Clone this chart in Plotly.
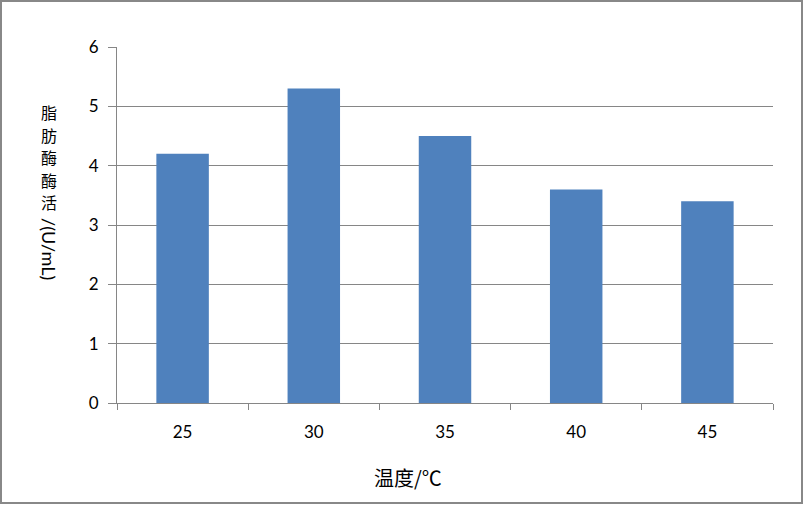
import plotly.graph_objects as go

categories = ["25", "30", "35", "40", "45"]
values = [4.2, 5.3, 4.5, 3.6, 3.4]
y_title_chars = ["脂", "肪", "酶", "酶", "活"]
y_title_tail = "/(U/mL)"
x_title = "温度/℃"

W, H = 804, 506
L, R, T, B = 117, 31, 47, 103
PW, PH = W - L - R, H - T - B

def px(x):
    return (x - L) / PW

def py(y):
    return (H - B - y) / PH

fig = go.Figure(go.Bar(x=categories, y=values, marker=dict(color="#4F81BD", line=dict(width=0)),
                       width=0.4))

annotations = []
for i, ch in enumerate(y_title_chars):
    annotations.append(dict(text=ch, x=px(49), y=py(112 + 22.5 * i), xref="paper", yref="paper",
                            showarrow=False, xanchor="center", yanchor="middle", borderpad=0,
                            font=dict(family="Noto Sans CJK SC", size=16, color="#000000")))
annotations.append(dict(text=y_title_tail, x=px(49), y=py(249), xref="paper", yref="paper",
                        showarrow=False, xanchor="center", yanchor="middle", textangle=90,
                        borderpad=0, font=dict(family="Lato", size=18, color="#000000")))
annotations.append(dict(text=x_title, x=px(408), y=py(477), xref="paper", yref="paper",
                        showarrow=False, xanchor="center", yanchor="middle",
                        font=dict(family="Noto Sans CJK SC", size=20, color="#000000")))

shapes = [dict(type="rect", xref="paper", yref="paper",
               x0=px(1), x1=px(802), y0=py(1), y1=py(503),
               line=dict(color="#888888", width=2), fillcolor="rgba(0,0,0,0)", layer="above")]

fig.update_layout(
    width=W, height=H,
    margin=dict(l=L, r=R, t=T, b=B, pad=0),
    paper_bgcolor="white", plot_bgcolor="white",
    showlegend=False,
    bargap=0.6,
    annotations=annotations,
    shapes=shapes,
    xaxis=dict(
        type="category", showline=True, linecolor="#868686", linewidth=1,
        ticks="outside", tickson="boundaries", ticklen=6, tickcolor="#868686",
        showgrid=False, tickfont=dict(family="Lato", size=17, color="#000000"),
        ticklabelstandoff=14, zeroline=False,
    ),
    yaxis=dict(
        range=[0, 6], dtick=1, tick0=0, showline=True, linecolor="#868686", linewidth=1,
        ticks="outside", ticklen=8, tickcolor="#868686",
        showgrid=True, gridcolor="#868686", gridwidth=1, zeroline=False,
        tickfont=dict(family="Lato", size=17, color="#000000"), ticklabelstandoff=6,
    ),
)

fig.write_html("out.html", config={"displayModeBar": False},
               post_script="document.body.style.margin='0';document.body.style.overflow='hidden';")
